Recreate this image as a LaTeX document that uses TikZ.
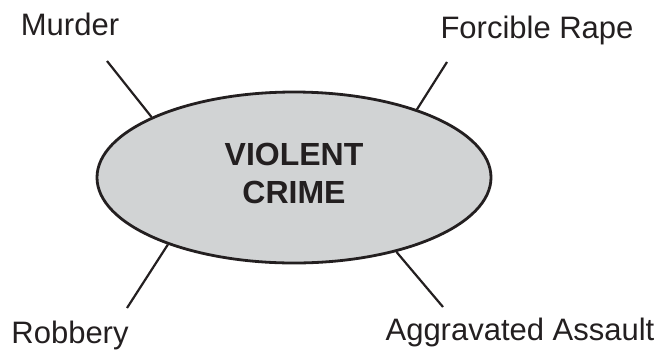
\documentclass[tikz,border=0pt]{standalone}
\usepackage{fontspec}
\setmainfont{Liberation Sans}
\usepackage{tikz}
\usetikzlibrary{shapes.geometric}

\definecolor{inkblack}{RGB}{35,31,32}
\definecolor{crimegray}{RGB}{209,211,212}

\begin{document}
\begin{tikzpicture}[x=1pt,y=-1pt,
        every node/.style={font=\fontsize{31}{38}\selectfont,text=inkblack},
        crime/.style={ellipse,draw=inkblack,fill=crimegray,line width=2.8pt,
            minimum width=394pt,minimum height=171pt,inner sep=0pt},
        kind/.style={anchor=base,inner sep=0pt},
        spoke/.style={color=inkblack,line width=2.2pt}]
        \useasboundingbox (0,0) rectangle (663,354);

        \node[crime] (crime) at (294,177.5) {}; 
        \node[align=center,inner sep=0pt,font=\fontsize{32}{38}\selectfont\bfseries] (crime_txt) at (294,173.5) {VIOLENT\\CRIME};

        \node[kind] (murd) at (70,35) {Murder};
        \node[kind] (rape) at (537,38) {Forcible Rape};
        \node[kind] (rob) at (70,343) {Robbery};
        \node[kind] (assault) at (520,340) {Aggravated Assault};

        \coordinate (murd_end) at (107,61);
        \coordinate (rape_end) at (447,62);
        \coordinate (rob_end) at (127,308);
        \coordinate (assault_end) at (443,307);

        \path[spoke] (crime.157) edge (murd_end)
            (crime.29) edge (rape_end)
            (crime.208) edge (rob_end)
            (crime.324) edge (assault_end);
    \end{tikzpicture}
\end{document}
